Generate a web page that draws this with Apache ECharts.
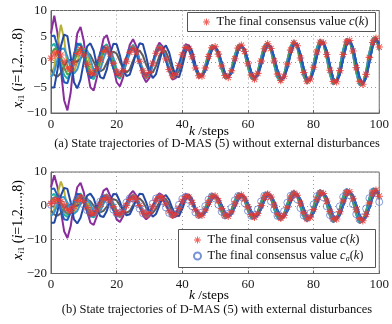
<!DOCTYPE html>
<html>
<head>
<meta charset="utf-8">
<script src="https://cdn.jsdelivr.net/npm/echarts@6/dist/echarts.min.js"></script>
<style>
html, body { margin: 0; padding: 0; background: #ffffff; }
#chart { width: 392px; height: 324px; }
</style>
</head>
<body>
<div id="chart"></div>
<script>
// Final consensus value c(k), k = 0..100
const consensus = [
  0.7, 1.5, 1.9, 1.3, 0.0, -1.2, -1.4, -0.2, 1.6, 2.4,
  1.3, -0.5, -2.1, -2.39, -1.33, 0.48, 2.05, 2.47, 1.52, -0.29,
  -1.97, -2.54, -1.73, 0.10, 1.87, 2.60, 1.91, 0.10, -1.76, -2.69,
  -2.08, -0.31, 1.66, 2.72, 2.25, 0.54, -1.52, -2.72, -2.45, -0.76,
  1.36, 2.76, 2.60, 0.99, -1.20, -2.73, -2.78, -1.23, 1.01, 2.73,
  2.91, 1.49, -0.82, -2.70, -3.07, -1.75, 0.60, 2.66, 3.21, 2.01,
  -0.38, -2.58, -3.39, -2.27, 0.12, 2.52, 3.50, 2.57, 0.15, -2.39,
  -3.64, -2.82, -0.44, 2.27, 3.71, 3.12, 0.74, -2.08, -3.79, -3.36,
  -1.06, 1.90, 3.81, 3.64, 1.40, -1.66, -3.84, -3.90, -1.73, 1.42,
  3.84, 4.15, 2.09, -1.15, -3.81, -4.39, -2.46, 0.85, 3.75, 4.60,
  2.86
];

// Final consensus value c_a(k) under external disturbances
const consensusDisturbed = [
  0.3, 1.58, 1.57, 0.63, -0.63, -1.37, -0.94, 0.58, 2.01, 1.96,
  0.38, -1.28, -2.27, -1.83, -0.41, 1.26, 2.24, 1.96, 0.60, -1.13,
  -2.24, -2.10, -0.81, 0.99, 2.22, 2.22, 0.99, -0.83, -2.20, -2.37,
  -1.17, 0.68, 2.17, 2.46, 1.36, -0.49, -2.11, -2.55, -1.59, 0.31,
  2.04, 2.66, 1.76, -0.11, -1.95, -2.72, -1.98, -0.10, 1.85, 2.80,
  2.16, 0.33, -1.75, -2.87, -2.37, -0.57, 1.62, 2.92, 2.56, 0.81,
  -1.47, -2.95, -2.80, -1.05, 1.30, 2.99, 3.00, 1.34, -1.11, -2.98,
  -3.20, -1.60, 0.91, 2.97, 3.37, 1.90, -0.67, -2.91, -3.54, -2.17,
  0.42, 2.84, 3.68, 2.48, -0.14, -2.72, -3.82, -2.79, -0.14, 2.61,
  3.95, 3.09, 0.45, -2.46, -4.05, -3.39, -0.78, 2.28, 4.13, 3.68,
  1.15
];

// Agent states x_i1(k) for k = 0..44 (transient part)
const purpleHead = [5.5, 9.0, 5.5, -1.5, -7.5, -9.5, -6.0, 0.5, 5.5, 6.8, 4.0, -1.5, -5.0, -5.6, -3.0, 1.5, 4.5, 5.2, 3.0, -1.0, -4.0, -4.8, -3.0, 0.5, 3.3, 4.4, 3.0, 0.2, -2.8, -4.0, -3.1, -0.5, 2.3, 3.7, 3.0, 0.8, -1.9, -3.5, -3.2, -1.0, 1.7, 3.4, 3.2, 1.3, -1.4];
const oliveHead = [-2.5, -1.0, 3.5, 7.2, 4.5, -1.0, -2.5, -2.0, 0.0, 2.0, 2.6, 1.5, -0.8, -2.4, -2.2, -0.4, 1.7, 2.7, 2.0, 0.0, -1.9, -2.6, -1.9, -0.1, 1.7, 2.6, 2.0, 0.3, -1.6, -2.6, -2.2, -0.5, 1.5, 2.7, 2.3, 0.7, -1.4, -2.7, -2.5, -0.9, 1.3, 2.7, 2.6, 1.1, -1.1];
const blueAHead = [5.0, 5.1, 3.0, -1.5, -4.0, -4.2, -2.0, 1.5, 3.6, 3.2, 1.0, -1.8, -3.2, -2.6, -0.5, 1.8, 3.0, 2.5, 0.8, -1.4, -2.7, -2.5, -1.0, 1.0, 2.5, 2.7, 1.5, -0.5, -2.2, -2.7, -1.8, 0.1, 1.9, 2.7, 2.0, 0.2, -1.7, -2.6, -2.1, -0.3, 1.6, 2.7, 2.3, 0.6, -1.5];
const blueBHead = [-5.0, -5.0, -1.5, 3.0, 5.3, 5.0, 1.0, -4.0, -5.2, -3.5, 0.0, 3.0, 3.6, 2.2, -0.8, -3.0, -3.3, -1.5, 1.5, 3.5, 3.4, 1.2, -1.5, -2.8, -2.5, -0.5, 2.0, 3.6, 3.4, 1.0, -1.8, -3.2, -2.4, 0.0, 2.4, 3.2, 1.8, -0.8, -2.9, -3.0, -0.9, 1.8, 3.2, 2.1, -0.6];
const tealHead = [3.0, 3.5, 2.2, -0.5, -2.6, -3.3, -2.1, 0.5, 3.0, 3.6, 2.2, -0.6, -3.0, -3.4, -1.9, 0.6, 2.9, 3.4, 2.0, -0.5, -2.8, -3.3, -2.1, 0.3, 2.5, 3.3, 2.3, 0.1, -2.2, -3.3, -2.5, -0.4, 2.0, 3.2, 2.6, 0.6, -1.8, -3.2, -2.9, -0.9, 1.6, 3.1, 2.9, 1.1, -1.4];
const grayHead = [-1.5, -2.6, -2.9, -2.2, -0.8, 0.2, 0.4, 0.1, 0.0, 0.6, 1.5, 1.9, 1.3, 0.0, -1.3, -1.9, -1.5, -0.2, 1.2, 2.0, 1.6, 0.1, -1.4, -2.1, -1.5, 0.2, 1.8, 2.2, 1.2, -0.6, -2.0, -2.1, -0.8, 1.1, 2.3, 2.0, 0.3, -1.7, -2.6, -1.8, 0.3, 2.2, 2.8, 1.5, -0.8];
const greenHead = [1.5, 2.5, 2.6, 1.0, -1.2, -2.5, -2.2, -0.3, 1.8, 2.8, 2.0, -0.2, -2.2, -2.7, -1.6, 0.4, 2.2, 2.7, 1.7, -0.3, -2.1, -2.7, -1.8, 0.1, 1.9, 2.7, 2.0, 0.1, -1.8, -2.8, -2.1, -0.3, 1.7, 2.8, 2.3, 0.5, -1.6, -2.8, -2.5, -0.8, 1.4, 2.8, 2.6, 1.0, -1.2];
const cyanHead = [-3.0, -2.0, 0.5, 2.5, 2.6, 1.0, -1.2, -2.3, -1.5, 0.6, 2.2, 2.2, 0.5, -1.6, -2.5, -1.6, 0.6, 2.3, 2.4, 0.8, -1.4, -2.6, -2.1, -0.3, 1.7, 2.6, 2.1, 0.4, -1.6, -2.7, -2.3, -0.6, 1.4, 2.7, 2.4, 0.8, -1.4, -2.7, -2.6, -1.0, 1.2, 2.7, 2.7, 1.2, -1.1];

// Agent states for k = 45..100 (steady oscillation around the consensus)
const leadTailA = [-3.13, -2.72, -0.73, 1.66, 3.18, 2.89, 1.02, -1.50, -3.20, -3.11, -1.31, 1.30, 3.21, 3.30, 1.59, -1.09, -3.18, -3.54, -1.88, 0.85, 3.18, 3.72, 2.22, -0.58, -3.10, -3.93, -2.51, 0.30, 3.03, 4.06, 2.86, 0.00, -2.88, -4.21, -3.15, -0.33, 2.74, 4.30, 3.50, 0.68, -2.55, -4.41, -3.81, -1.03, 2.35, 4.48, 4.14, 1.42, -2.11, -4.53, -4.45, -1.82, 1.83, 4.54, 4.74, 2.26];
const lagTailA = [-2.35, -2.87, -1.74, 0.37, 2.30, 2.95, 1.98, -0.15, -2.23, -3.06, -2.21, -0.09, 2.14, 3.15, 2.45, 0.33, -2.00, -3.27, -2.69, -0.61, 1.88, 3.32, 2.94, 0.88, -1.70, -3.39, -3.16, -1.19, 1.54, 3.39, 3.41, 1.48, -1.30, -3.41, -3.60, -1.80, 1.08, 3.36, 3.82, 2.13, -0.79, -3.31, -4.03, -2.44, 0.51, 3.24, 4.20, 2.79, -0.20, -3.13, -4.37, -3.13, -0.12, 3.00, 4.51, 3.49];
const leadTailB = [-3.42, -2.77, -0.52, 2.02, 3.49, 2.98, 0.83, -1.87, -3.53, -3.22, -1.13, 1.66, 3.57, 3.45, 1.44, -1.47, -3.57, -3.73, -1.75, 1.21, 3.58, 3.93, 2.12, -0.95, -3.54, -4.18, -2.44, 0.66, 3.48, 4.35, 2.82, -0.34, -3.35, -4.53, -3.14, -0.01, 3.23, 4.66, 3.54, 0.38, -3.04, -4.80, -3.89, -0.74, 2.85, 4.92, 4.25, 1.15, -2.62, -5.00, -4.61, -1.58, 2.35, 5.05, 4.95, 2.05];
const lagTailB = [-2.10, -2.84, -1.97, 0.02, 2.03, 2.90, 2.18, 0.21, -1.92, -2.98, -2.41, -0.45, 1.80, 3.04, 2.62, 0.70, -1.64, -3.12, -2.83, -0.97, 1.51, 3.14, 3.07, 1.26, -1.29, -3.18, -3.26, -1.55, 1.10, 3.15, 3.48, 1.84, -0.85, -3.12, -3.64, -2.13, 0.61, 3.04, 3.82, 2.45, -0.31, -2.96, -3.99, -2.76, 0.02, 2.84, 4.14, 3.07, 0.29, -2.70, -4.26, -3.39, -0.63, 2.53, 4.34, 3.72];
const midTail = consensus.slice(45);

// Axis ticks
const xTicks = [0, 20, 40, 60, 80, 100];
const yTicksTop = [-10, -5, 0, 5, 10];
const yTicksBottom = [-20, -10, 0, 10];

const captionTop = '(a) State trajectories of D-MAS (5) without external disturbances';
const captionBottom = '(b) State trajectories of D-MAS (5) with external disturbances';

const SERIF = 'Liberation Serif';
const agents = [
  { color: '#8a2d9c', head: purpleHead, top: leadTailA, bottom: leadTailB },
  { color: '#b7b23a', head: oliveHead, top: midTail, bottom: midTail },
  { color: '#22b2a3', head: tealHead, top: leadTailA, bottom: leadTailB },
  { color: '#5c5c5c', head: grayHead, top: midTail, bottom: midTail },
  { color: '#4ea64a', head: greenHead, top: midTail, bottom: midTail },
  { color: '#3797cf', head: cyanHead, top: lagTailA, bottom: lagTailB },
  { color: '#2449a3', head: blueBHead, top: lagTailA, bottom: lagTailB },
  { color: '#1f5cbd', head: blueAHead, top: lagTailA, bottom: lagTailB }
];

const asterisk = 'path://M-0.14,-1L0.14,-1L0.14,1L-0.14,1Z M-1,-0.14L1,-0.14L1,0.14L-1,0.14Z M-0.61,-0.81L0.81,0.61L0.61,0.81L-0.81,-0.61Z M0.61,-0.81L0.81,-0.61L-0.61,0.81L-0.81,0.61Z';
const starColor = '#f0362e';
const circleColor = '#5577cc';

const toPairs = arr => arr.map((v, k) => [k, v]);
const minus = v => String(v).replace('-', '\u2212');

function xAxisFor(gridIndex) {
  return {
    gridIndex, type: 'value', min: xTicks[0], max: xTicks[xTicks.length - 1], interval: 20,
    axisLine: { show: true, onZero: false, lineStyle: { color: '#666', width: 1 } },
    axisTick: { show: true, inside: true, length: 3, lineStyle: { color: '#666' } },
    axisLabel: { fontFamily: SERIF, fontSize: 13, color: '#1a1a1a', margin: 5, hideOverlap: false, showMinLabel: true, showMaxLabel: true },
    splitLine: { show: true, lineStyle: { type: [1, 3], color: '#9a9a9a', width: 1 } }
  };
}
function yAxisFor(gridIndex, ticks) {
  return {
    gridIndex, type: 'value', min: ticks[0], max: ticks[ticks.length - 1], interval: ticks[1] - ticks[0],
    axisLine: { show: true, onZero: false, lineStyle: { color: '#666', width: 1 } },
    axisTick: { show: true, inside: true, length: 3, lineStyle: { color: '#666' } },
    axisLabel: { fontFamily: SERIF, fontSize: 13, color: '#1a1a1a', margin: 4, formatter: minus, hideOverlap: false, showMinLabel: true, showMaxLabel: true },
    splitLine: { show: true, lineStyle: { type: [1, 3], color: '#9a9a9a', width: 1 } }
  };
}

const series = [];
[0, 1].forEach(g => {
  agents.forEach((a, i) => {
    series.push({
      type: 'line', name: 'agent' + (i + 1) + '_' + g, xAxisIndex: g, yAxisIndex: g,
      data: toPairs(a.head.concat(g === 0 ? a.top : a.bottom)),
      showSymbol: false, symbol: 'none', silent: true,
      lineStyle: { color: a.color, width: 2 }, z: 2
    });
  });
});
series.push({
  type: 'scatter', name: 'ca', xAxisIndex: 1, yAxisIndex: 1, data: toPairs(consensusDisturbed),
  symbol: 'circle', symbolSize: 7,
  itemStyle: { color: 'rgba(0,0,0,0)', borderColor: circleColor, borderWidth: 0.9 }, z: 4
});
series.push({
  type: 'scatter', name: 'c', xAxisIndex: 0, yAxisIndex: 0, data: toPairs(consensus),
  symbol: asterisk, symbolSize: 7.5, itemStyle: { color: starColor }, z: 5
});
series.push({
  type: 'scatter', name: 'c2', xAxisIndex: 1, yAxisIndex: 1, data: toPairs(consensus),
  symbol: asterisk, symbolSize: 7.5, itemStyle: { color: starColor }, z: 5
});

const legendText = {
  fontFamily: SERIF, fontSize: 12.5, color: '#111', lineHeight: 14,
  rich: {
    n: { fontFamily: SERIF, fontSize: 12.5, color: '#111' },
    i: { fontFamily: SERIF, fontSize: 12.5, fontStyle: 'italic', color: '#111' },
    s: { fontFamily: SERIF, fontSize: 8, fontStyle: 'italic', color: '#111', padding: [6, 0, 0, 0] }
  }
};
const legendLabel = name => name === 'ca'
  ? '{n|The final consensus value }{i|c}{s|a}{n|(}{i|k}{n|)}'
  : '{n|The final consensus value }{i|c}{n|(}{i|k}{n|)}';

const yLabelRich = {
  x: { fontFamily: SERIF, fontSize: 14, fontStyle: 'italic', color: '#111' },
  s: { fontFamily: SERIF, fontSize: 9, color: '#111', padding: [7, 0, 0, 0] },
  si: { fontFamily: SERIF, fontSize: 9, fontStyle: 'italic', color: '#111', padding: [7, 0, 0, 0] },
  n: { fontFamily: SERIF, fontSize: 14, color: '#111' }
};
const yLabel = '{x|x}{si|i}{s|1}{n| (}{x|i}{n|=1,2,...,8)}';
const kRich = {
  i: { fontFamily: SERIF, fontSize: 13.5, fontStyle: 'italic', color: '#111' },
  n: { fontFamily: SERIF, fontSize: 13.5, color: '#111' }
};

const chart = echarts.init(document.getElementById('chart'), null, { renderer: 'canvas' });
chart.setOption({
  animation: false,
  backgroundColor: '#ffffff',
  grid: [
    { left: 51, top: 10.5, width: 329, height: 102.5, show: true, borderColor: '#666', borderWidth: 1, backgroundColor: '#fff' },
    { left: 51, top: 172, width: 329, height: 101.5, show: true, borderColor: '#666', borderWidth: 1, backgroundColor: '#fff' }
  ],
  xAxis: [xAxisFor(0), xAxisFor(1)],
  yAxis: [yAxisFor(0, yTicksTop), yAxisFor(1, yTicksBottom)],
  legend: [
    {
      data: [{ name: 'c' }],
      left: 203, top: 15, orient: 'vertical', padding: 0, z: 30,
      itemWidth: 10, itemHeight: 7, selectedMode: false,
      textStyle: legendText, formatter: legendLabel
    },
    {
      data: [{ name: 'c2' }, { name: 'ca' }],
      left: 193, top: 233, orient: 'vertical', padding: 0, itemGap: 2, z: 30,
      itemWidth: 10, itemHeight: 7, selectedMode: false,
      textStyle: legendText, formatter: legendLabel
    }
  ],
  graphic: [
    { type: 'rect', shape: { x: 187.5, y: 12.5, width: 188, height: 19 }, style: { fill: '#fff', stroke: '#555', lineWidth: 1 }, z: 10, silent: true },
    { type: 'rect', shape: { x: 178.5, y: 229.5, width: 197, height: 38 }, style: { fill: '#fff', stroke: '#555', lineWidth: 1 }, z: 10, silent: true },
    { type: 'text', x: 18, y: 68, rotation: Math.PI / 2, style: { text: yLabel, rich: yLabelRich, align: 'center', verticalAlign: 'middle' }, z: 20 },
    { type: 'text', x: 18, y: 220, rotation: Math.PI / 2, style: { text: yLabel, rich: yLabelRich, align: 'center', verticalAlign: 'middle' }, z: 20 },
    { type: 'text', x: 209, y: 131.5, style: { text: '{i|k}{n| /steps}', rich: kRich, align: 'center', verticalAlign: 'middle' }, z: 20 },
    { type: 'text', x: 209, y: 295.5, style: { text: '{i|k}{n| /steps}', rich: kRich, align: 'center', verticalAlign: 'middle' }, z: 20 },
    { type: 'text', x: 217, y: 144, style: { text: captionTop, fontFamily: SERIF, fontSize: 12.5, fill: '#111', align: 'center', verticalAlign: 'middle' }, z: 20 },
    { type: 'text', x: 217, y: 310, style: { text: captionBottom, fontFamily: SERIF, fontSize: 12.5, fill: '#111', align: 'center', verticalAlign: 'middle' }, z: 20 }
  ],
  series
});
</script>
</body>
</html>
